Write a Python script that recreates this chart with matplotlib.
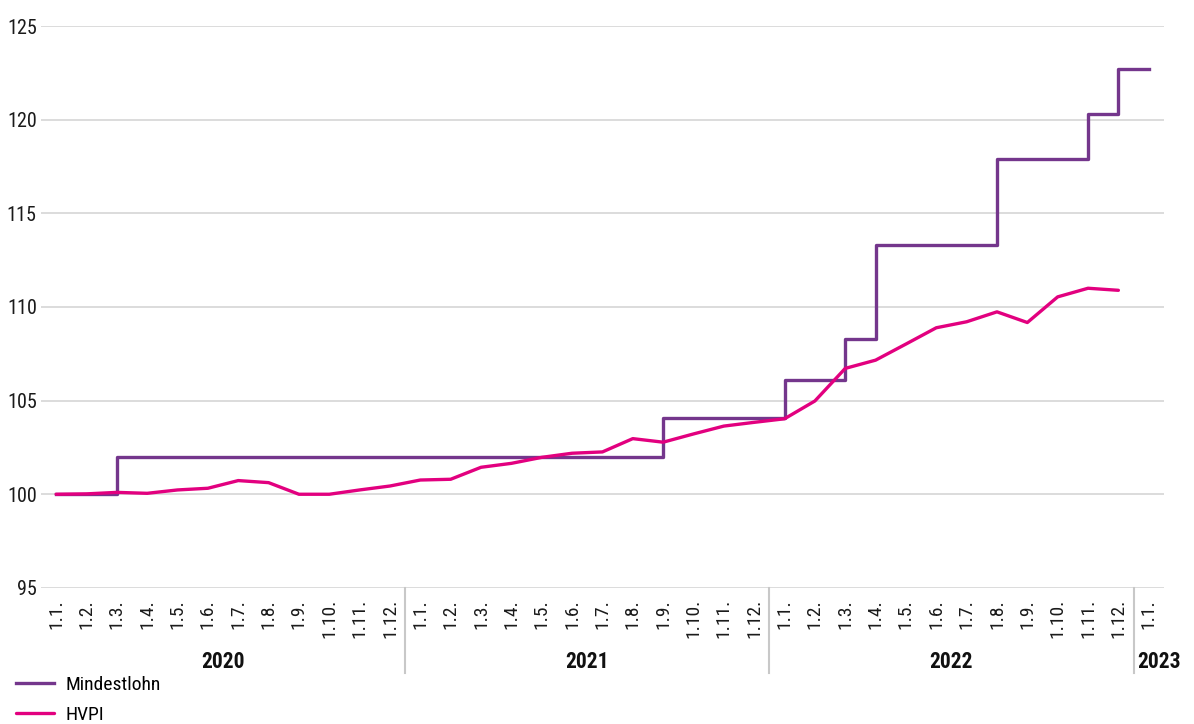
import matplotlib.pyplot as plt
from matplotlib.transforms import blended_transform_factory

plt.rcParams['font.family'] = ['Roboto Condensed', 'DejaVu Sans']

# Monatsanfänge 1.1.2020 bis 1.1.2023
months = ["1.1.", "1.2.", "1.3.", "1.4.", "1.5.", "1.6.",
          "1.7.", "1.8.", "1.9.", "1.10.", "1.11.", "1.12."]
tick_labels = months * 3 + ["1.1."]
years = ["2020", "2021", "2022", "2023"]

mindestlohn = [100.0, 100.0] + [102.0] * 18 + [104.05] * 4 + [106.1, 106.1, 108.3] \
    + [113.3] * 4 + [117.9] * 3 + [120.3, 122.7, 122.7]

hvpi = [100.0, 100.02, 100.1, 100.05, 100.23, 100.32, 100.73, 100.62, 100.0, 100.0, 100.23, 100.44,
        100.76, 100.8, 101.44, 101.65, 101.97, 102.19, 102.26, 102.97, 102.78, 103.22, 103.64, 103.84,
        104.03, 104.98, 106.72, 107.16, 108.02, 108.89, 109.21, 109.74, 109.17, 110.54, 111.0, 110.89]

purple = "#74368c"
magenta = "#e2007f"
grid = "#d9d9d9"

fig = plt.figure(figsize=(11.94, 7.24), dpi=100)
ax = fig.add_axes([0.0343, 0.188, 0.9405, 0.776])

x_ml = list(range(len(mindestlohn)))
x_hv = list(range(len(hvpi)))
ax.step(x_ml, mindestlohn, where="post", color=purple, lw=2.4, label="Mindestlohn", zorder=3)
ax.plot(x_hv, hvpi, color=magenta, lw=2.4, label="HVPI", zorder=4, solid_capstyle="round")

ax.set_ylim(95, 125)
ax.set_xlim(-0.5, len(tick_labels) - 0.5)
ax.set_yticks(range(95, 126, 5))
ax.yaxis.grid(True, color=grid, lw=1.3)
ax.set_axisbelow(True)
for s in ax.spines.values():
    s.set_visible(False)
ax.tick_params(axis="y", length=0, labelsize=14.5, pad=3, colors="#1a1a1a")

ax.set_xticks(range(len(tick_labels)))
ax.set_xticklabels(tick_labels, rotation=90, fontsize=14, color="#1a1a1a")
ax.tick_params(axis="x", length=0, pad=8)

# Jahresgruppen unter der Achse
tr = blended_transform_factory(ax.transData, ax.transAxes)
for sep in [11.5, 23.5, 35.5]:
    ax.plot([sep, sep], [0, -0.151], transform=tr, color="#c8c8c8", lw=1.5, clip_on=False)
year_pos = [5.5, 17.5, 29.5, 36.35]
for pos, yr in zip(year_pos, years):
    ax.text(pos, -0.132, yr, transform=tr, ha="center", va="center",
            fontsize=15.5, fontweight="bold", color="#111111")

ax.legend(loc="upper left", bbox_to_anchor=(0.013, 0.066), bbox_transform=fig.transFigure,
          frameon=False, fontsize=14, handlelength=2.0, labelspacing=0.62,
          handletextpad=0.55, borderaxespad=0, borderpad=0)

fig.savefig("out.png", dpi=100)
